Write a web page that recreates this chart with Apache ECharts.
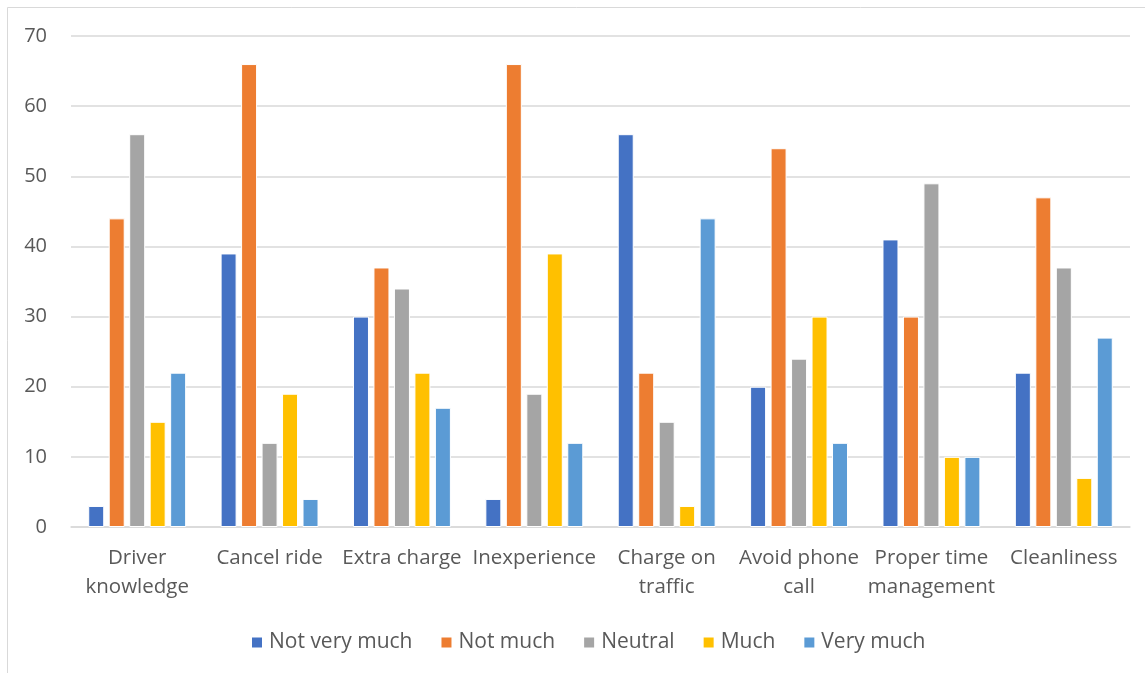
<!DOCTYPE html>
<html>
<head>
<meta charset="utf-8">
<script src="https://cdn.jsdelivr.net/npm/echarts@6/dist/echarts.min.js"></script>
<style>
  html, body { margin: 0; padding: 0; background: #fff; }
  #chart { width: 1145px; height: 673px; }
</style>
</head>
<body>
<div id="chart"></div>
<script>
// Survey categories (x axis) and response levels (series)
const categories = [
  'Driver\nknowledge', 'Cancel ride', 'Extra charge', 'Inexperience',
  'Charge on\ntraffic', 'Avoid phone\ncall', 'Proper time\nmanagement', 'Cleanliness'
];
const notVeryMuch = [3, 39, 30, 4, 56, 20, 41, 22];
const notMuch     = [44, 66, 37, 66, 22, 54, 30, 47];
const neutral     = [56, 12, 34, 19, 15, 24, 49, 37];
const much        = [15, 19, 22, 39, 3, 30, 10, 7];
const veryMuch    = [22, 4, 17, 12, 44, 12, 10, 27];
const yTicks = [0, 10, 20, 30, 40, 50, 60, 70];

const seriesDefs = [
  { name: 'Not very much', data: notVeryMuch, color: '#4472C4' },
  { name: 'Not much',      data: notMuch,     color: '#ED7D31' },
  { name: 'Neutral',       data: neutral,     color: '#A5A5A5' },
  { name: 'Much',          data: much,        color: '#FFC000' },
  { name: 'Very much',     data: veryMuch,    color: '#5B9BD5' }
];

const FONT = 'Open Sans';
const chart = echarts.init(document.getElementById('chart'));
chart.setOption({
  animation: false,
  backgroundColor: '#fff',
  textStyle: { fontFamily: FONT },
  graphic: [
    { type: 'line', shape: { x1: 7.5, y1: 7.5, x2: 1145, y2: 7.5 }, style: { stroke: '#D9D9D9', lineWidth: 1 } },
    { type: 'line', shape: { x1: 7.5, y1: 7.5, x2: 7.5, y2: 673 }, style: { stroke: '#D9D9D9', lineWidth: 1 } }
  ],
  grid: { left: 71, right: 15, top: 36, bottom: 146, containLabel: false },
  legend: {
    top: 627,
    left: 245,
    itemWidth: 12,
    itemHeight: 12,
    itemGap: 27,
    icon: 'rect',
    textStyle: { fontFamily: FONT, fontSize: 21, color: '#595959', padding: [0, 0, 0, 1] },
    data: seriesDefs.map(s => s.name)
  },
  xAxis: {
    type: 'category',
    data: categories,
    axisLine: { show: true, lineStyle: { color: '#D9D9D9', width: 1.5 } },
    axisTick: { show: false },
    axisLabel: {
      interval: 0,
      margin: 17,
      fontFamily: FONT,
      fontSize: 20.5,
      lineHeight: 29,
      color: '#595959'
    }
  },
  yAxis: {
    type: 'value',
    min: 0,
    max: 70,
    interval: 10,
    axisLine: { show: false },
    axisTick: { show: false },
    splitLine: { lineStyle: { color: '#D9D9D9', width: 1.5 } },
    axisLabel: {
      margin: 24,
      fontFamily: FONT,
      fontSize: 20,
      color: '#595959',
      formatter: v => yTicks.includes(v) ? String(v) : ''
    }
  },
  series: seriesDefs.map(s => ({
    name: s.name,
    type: 'bar',
    data: s.data,
    barWidth: 16,
    barGap: '28%',
    itemStyle: { color: s.color, borderColor: '#fff', borderWidth: 1 }
  }))
});
</script>
</body>
</html>
